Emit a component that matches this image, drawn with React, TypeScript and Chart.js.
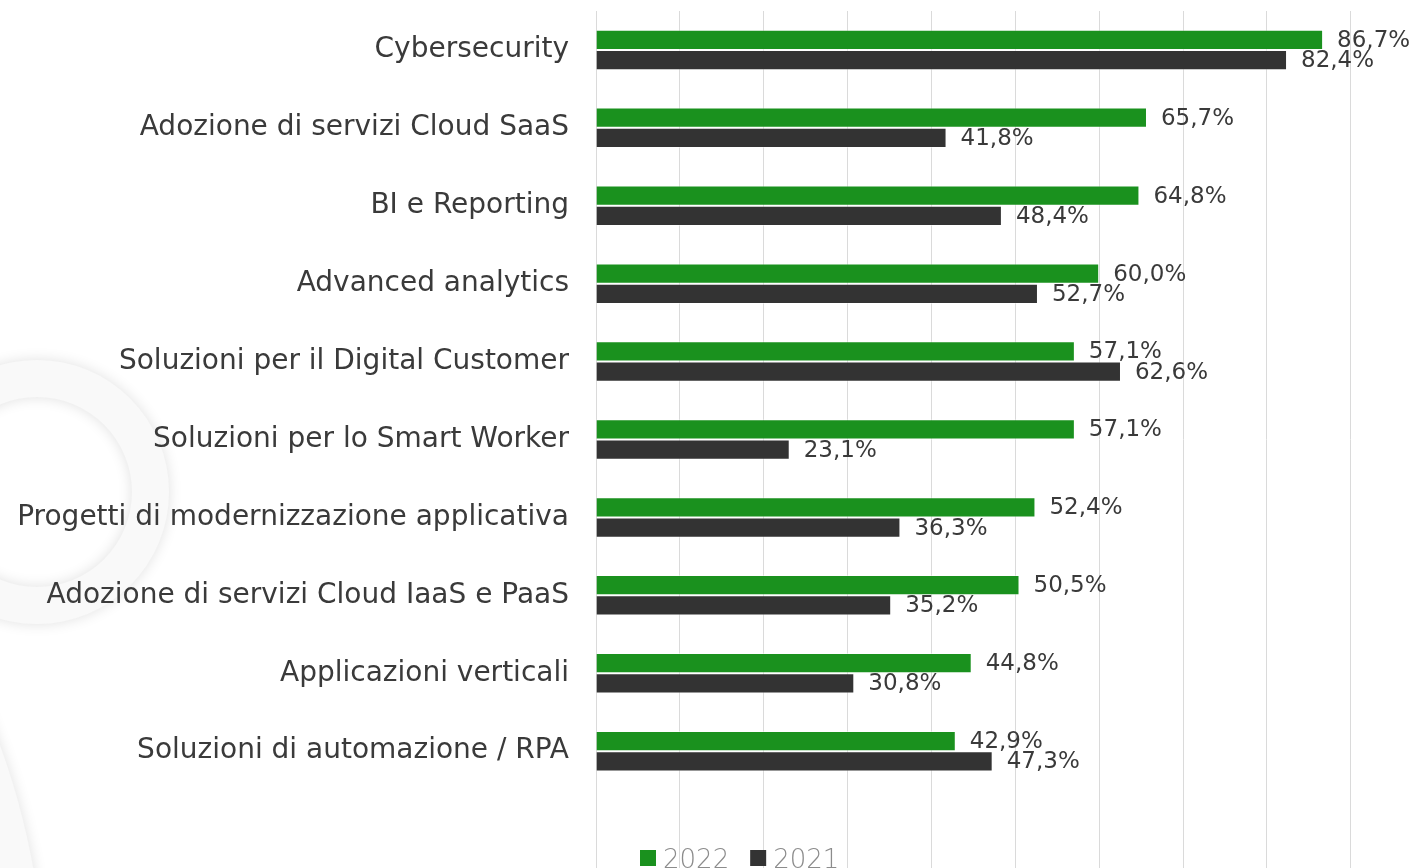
import React, { useEffect, useRef } from 'react';
import { Chart, registerables } from 'chart.js';

Chart.register(...registerables);

const CATEGORIES = [
  'Cybersecurity',
  'Adozione di servizi Cloud SaaS',
  'BI e Reporting',
  'Advanced analytics',
  'Soluzioni per il Digital Customer',
  'Soluzioni per lo Smart Worker',
  'Progetti di modernizzazione applicativa',
  'Adozione di servizi Cloud IaaS e PaaS',
  'Applicazioni verticali',
  'Soluzioni di automazione / RPA',
];
const VALUES_2022 = [86.7, 65.7, 64.8, 60.0, 57.1, 57.1, 52.4, 50.5, 44.8, 42.9];
const VALUES_2021 = [82.4, 41.8, 48.4, 52.7, 62.6, 23.1, 36.3, 35.2, 30.8, 47.3];
const SERIES_LABELS = ['2022', '2021'];
const SERIES_COLORS = ['#1a911e', '#333333'];
const X_MAX = 97.3;
const X_STEP = 10;

const FONT = "'DejaVu Sans', sans-serif";

const decorPlugin = {
  id: 'decor',
  beforeDraw(chart: any) {
    const ctx = chart.ctx;
    ctx.save();
    ctx.shadowColor = 'rgba(0,0,0,0.12)';
    ctx.shadowBlur = 14;
    ctx.fillStyle = '#f9f9f9';
    ctx.beginPath();
    ctx.arc(37, 492, 132, 0, Math.PI * 2);
    ctx.arc(37, 492, 95, 0, Math.PI * 2, true);
    ctx.fill('evenodd');
    ctx.beginPath();
    ctx.arc(-698, 1000, 743, 0, Math.PI * 2);
    ctx.fill();
    ctx.restore();
  },
};

const valueLabelPlugin = {
  id: 'valueLabels',
  afterDatasetsDraw(chart: any) {
    const ctx = chart.ctx;
    ctx.save();
    ctx.font = `23px ${FONT}`;
    ctx.fillStyle = '#3a3a3a';
    ctx.textAlign = 'left';
    ctx.textBaseline = 'middle';
    chart.data.datasets.forEach((ds: any, di: number) => {
      const meta = chart.getDatasetMeta(di);
      meta.data.forEach((bar: any, i: number) => {
        const v = ds.data[i];
        if (v == null) return;
        const txt = v.toFixed(1).replace('.', ',') + '%';
        ctx.fillText(txt, bar.x + 14, bar.y + 1);
      });
    });
    ctx.restore();
  },
};

const legendPlugin = {
  id: 'bottomLegend',
  afterDraw(chart: any) {
    const ctx = chart.ctx;
    ctx.save();
    ctx.font = `300 26px ${FONT}`;
    ctx.textBaseline = 'alphabetic';
    ctx.textAlign = 'left';
    let x = chart.chartArea.left + 44;
    const baseY = chart.height;
    chart.data.datasets.forEach((ds: any) => {
      ctx.fillStyle = ds.backgroundColor;
      ctx.fillRect(x, baseY - 18, 16, 16);
      x += 23;
      ctx.fillStyle = '#8c8c8c';
      ctx.fillText(ds.label, x, baseY);
      x += ctx.measureText(ds.label).width + 21;
    });
    ctx.restore();
  },
};

export default function App() {
  const ref = useRef<HTMLCanvasElement>(null);
  useEffect(() => {
    document.body.style.margin = '0';
    const chart = new Chart(ref.current!, {
      type: 'bar',
      data: {
        // one trailing empty slot leaves room for the legend under the last category
        labels: [...CATEGORIES, ''],
        datasets: [
          {
            label: SERIES_LABELS[0],
            data: VALUES_2022,
            backgroundColor: SERIES_COLORS[0],
            borderColor: 'rgba(255,255,255,0.45)',
            borderWidth: 1,
          },
          {
            label: SERIES_LABELS[1],
            data: VALUES_2021,
            backgroundColor: SERIES_COLORS[1],
            borderColor: 'rgba(255,255,255,0.45)',
            borderWidth: 1,
          },
        ],
      },
      options: {
        indexAxis: 'y',
        animation: false,
        responsive: true,
        maintainAspectRatio: false,
        layout: { padding: { top: 11, right: 0, bottom: 0, left: 0 } },
        datasets: { bar: { categoryPercentage: 0.52, barPercentage: 1 } },
        plugins: { legend: { display: false }, tooltip: { enabled: false } },
        scales: {
          x: {
            min: 0,
            max: X_MAX,
            ticks: { display: false, stepSize: X_STEP },
            border: { display: false },
            grid: {
              drawTicks: false,
              color: (c: any) =>
                c.tick && Math.abs(c.tick.value % X_STEP) < 1e-6 ? '#dadada' : 'rgba(0,0,0,0)',
              lineWidth: 1,
            },
            afterFit: (scale: any) => {
              scale.height = 0;
              scale.paddingLeft = 0;
              scale.paddingRight = 0;
            },
          },
          y: {
            afterFit: (scale: any) => {
              scale.width = 596;
              scale.paddingTop = 0;
              scale.paddingBottom = 0;
            },
            ticks: {
              padding: 27,
              color: '#3a3a3a',
              font: { family: FONT, size: 28 },
              autoSkip: false,
            },
            border: { display: false },
            grid: { display: false, drawTicks: false },
          },
        },
      },
      plugins: [decorPlugin, valueLabelPlugin, legendPlugin],
    });
    return () => chart.destroy();
  }, []);
  return (
    <div style={{ position: 'relative', width: '1412px', height: '868px' }}>
      <canvas ref={ref} />
    </div>
  );
}
